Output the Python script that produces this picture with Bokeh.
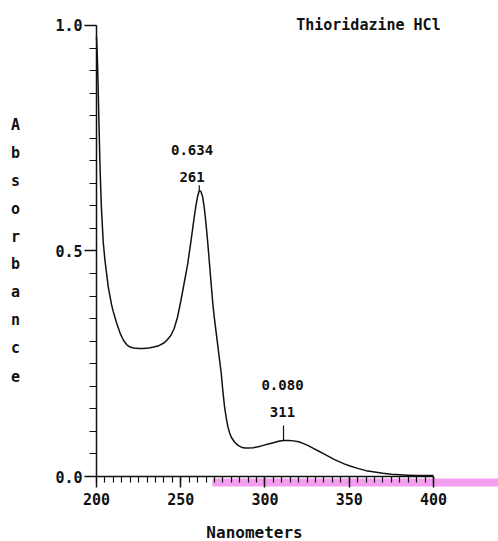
from bokeh.plotting import figure
from bokeh.models import (SingleIntervalTicker, PrintfTickFormatter, Label,
                          BoxAnnotation, Range1d, LinearAxis)
from bokeh.core.properties import value
from bokeh.embed import file_html
from bokeh.resources import INLINE

# UV absorbance spectrum of Thioridazine HCl
wavelength = [200, 200.5, 201, 201.5, 202, 202.5, 203, 204, 205, 206, 207, 208,
              209, 210, 212, 214, 216, 218, 220, 222, 225, 228, 231, 234, 237,
              240, 242, 244, 246, 248, 250, 252, 254, 256, 258, 259, 260, 261,
              262, 263, 264, 265, 266, 267, 268, 269, 270, 271, 272, 273, 274,
              275, 276, 277, 278, 279, 280, 282, 284, 286, 288, 290, 293, 296,
              299, 302, 305, 308, 311, 314, 317, 320, 323, 326, 329, 332, 335,
              338, 341, 344, 347, 350, 355, 360, 365, 370, 375, 380, 385, 390,
              395, 400]
absorbance = [0.975, 0.93, 0.86, 0.78, 0.70, 0.64, 0.59, 0.52, 0.48, 0.45, 0.42,
              0.40, 0.38, 0.365, 0.34, 0.318, 0.302, 0.292, 0.287, 0.285, 0.284,
              0.284, 0.285, 0.287, 0.290, 0.296, 0.303, 0.312, 0.327, 0.352,
              0.388, 0.428, 0.468, 0.52, 0.575, 0.60, 0.621, 0.634, 0.632, 0.62,
              0.595, 0.56, 0.52, 0.475, 0.43, 0.385, 0.35, 0.32, 0.29, 0.26,
              0.23, 0.19, 0.155, 0.13, 0.11, 0.097, 0.087, 0.076, 0.069, 0.065,
              0.063, 0.063, 0.064, 0.066, 0.069, 0.072, 0.075, 0.078, 0.080,
              0.080, 0.079, 0.077, 0.073, 0.068, 0.062, 0.056, 0.050, 0.044,
              0.038, 0.033, 0.028, 0.024, 0.018, 0.013, 0.010, 0.007, 0.005,
              0.004, 0.003, 0.002, 0.002, 0.002]

# Annotated maxima
peak_nm = [261, 311]
peak_abs = [0.634, 0.080]
title_text = "Thioridazine HCl"
x_title = "Nanometers"
y_title = "Absorbance"

MONO = "DejaVu Sans Mono"
INK = "#111111"

# The plotting area fills the whole page; axes sit at fixed data positions.
p = figure(width=498, height=541, output_backend="svg", toolbar_location=None,
           x_range=Range1d(143.03, 438.6), y_range=Range1d(-0.1441, 1.0554),
           x_axis_location=None, y_axis_location=None,
           min_border=0, background_fill_color="white",
           border_fill_color="white")
p.outline_line_color = None
p.grid.visible = False

# x axis: 200-400 nm, minor ticks every 5 nm
xa = LinearAxis(fixed_location=0,
                ticker=SingleIntervalTicker(interval=50, num_minor_ticks=10))
xa.bounds = (200, 400)
xa.axis_line_width = 1.5
xa.axis_line_color = INK
xa.major_tick_line_width = 1.5
xa.major_tick_line_color = INK
xa.minor_tick_line_color = INK
xa.minor_tick_line_width = 1.2
xa.major_tick_out = 11
xa.major_tick_in = 0
xa.minor_tick_out = 6
xa.minor_tick_in = 0
xa.major_label_standoff = 5
xa.major_label_text_font = MONO
xa.major_label_text_font_style = "bold"
xa.major_label_text_font_size = "15px"
xa.major_label_text_color = INK
p.add_layout(xa, "below")

# y axis: 0-1 absorbance units, minor ticks every 0.05
ya = LinearAxis(fixed_location=200,
                ticker=SingleIntervalTicker(interval=0.5, num_minor_ticks=10),
                formatter=PrintfTickFormatter(format="%.1f"))
ya.bounds = (0, 1.0)
ya.axis_line_width = 1.5
ya.axis_line_color = INK
ya.major_tick_line_width = 1.5
ya.major_tick_line_color = INK
ya.minor_tick_line_color = INK
ya.minor_tick_line_width = 1.2
ya.major_tick_out = 12
ya.major_tick_in = 0
ya.minor_tick_out = 7
ya.minor_tick_in = 0
ya.major_label_standoff = 2
ya.major_label_text_font = MONO
ya.major_label_text_font_style = "bold"
ya.major_label_text_font_size = "15px"
ya.major_label_text_color = INK
p.add_layout(ya, "left")

# highlighter strip along the baseline
p.add_layout(BoxAnnotation(left=268.8, bottom=-0.022, top=-0.0044,
                           fill_color="#f59ff0", fill_alpha=1.0,
                           line_color=None, level="underlay"))

# spectrum trace
p.line(wavelength, absorbance, line_color=INK, line_width=1.5)

# peak markers and value labels
tick_len = [0.012, 0.033]
p.segment(x0=peak_nm, y0=peak_abs, x1=peak_nm,
          y1=[a + t for a, t in zip(peak_abs, tick_len)],
          line_color=INK, line_width=1.2)
label_dx = [-4.3, -0.6]
val_dy = [0.089, 0.122]
nm_dy = [0.031, 0.064]
p.text(x=[n + d for n, d in zip(peak_nm, label_dx)],
       y=[a + d for a, d in zip(peak_abs, val_dy)],
       text=["%.3f" % a for a in peak_abs],
       text_font=value(MONO), text_font_style="bold", text_font_size="14px",
       text_align="center", text_baseline="middle", text_color=INK)
p.text(x=[n + d for n, d in zip(peak_nm, label_dx)],
       y=[a + d for a, d in zip(peak_abs, nm_dy)],
       text=["%d" % n for n in peak_nm],
       text_font=value(MONO), text_font_style="bold", text_font_size="14px",
       text_align="center", text_baseline="middle", text_color=INK)

# title at upper right
p.add_layout(Label(x=361.4, y=1.0, text=title_text, text_font=MONO,
                   text_font_style="bold", text_font_size="15px",
                   text_align="center", text_baseline="middle",
                   text_color=INK))

# x-axis title below the tick labels
p.add_layout(Label(x=293.8, y=-0.124, text=x_title, text_font=MONO,
                   text_font_style="bold", text_font_size="16px",
                   text_align="center", text_baseline="middle",
                   text_color=INK))

# vertical, letter-stacked y-axis title in the left margin
for i, ch in enumerate(y_title):
    p.add_layout(Label(x=151.9, y=(476 - 125 - i * 27.8) / 451, text=ch,
                       text_font=MONO, text_font_style="bold",
                       text_font_size="15px", text_align="center",
                       text_baseline="middle", text_color=INK))

open("out.html", "w").write(file_html(p, INLINE))
